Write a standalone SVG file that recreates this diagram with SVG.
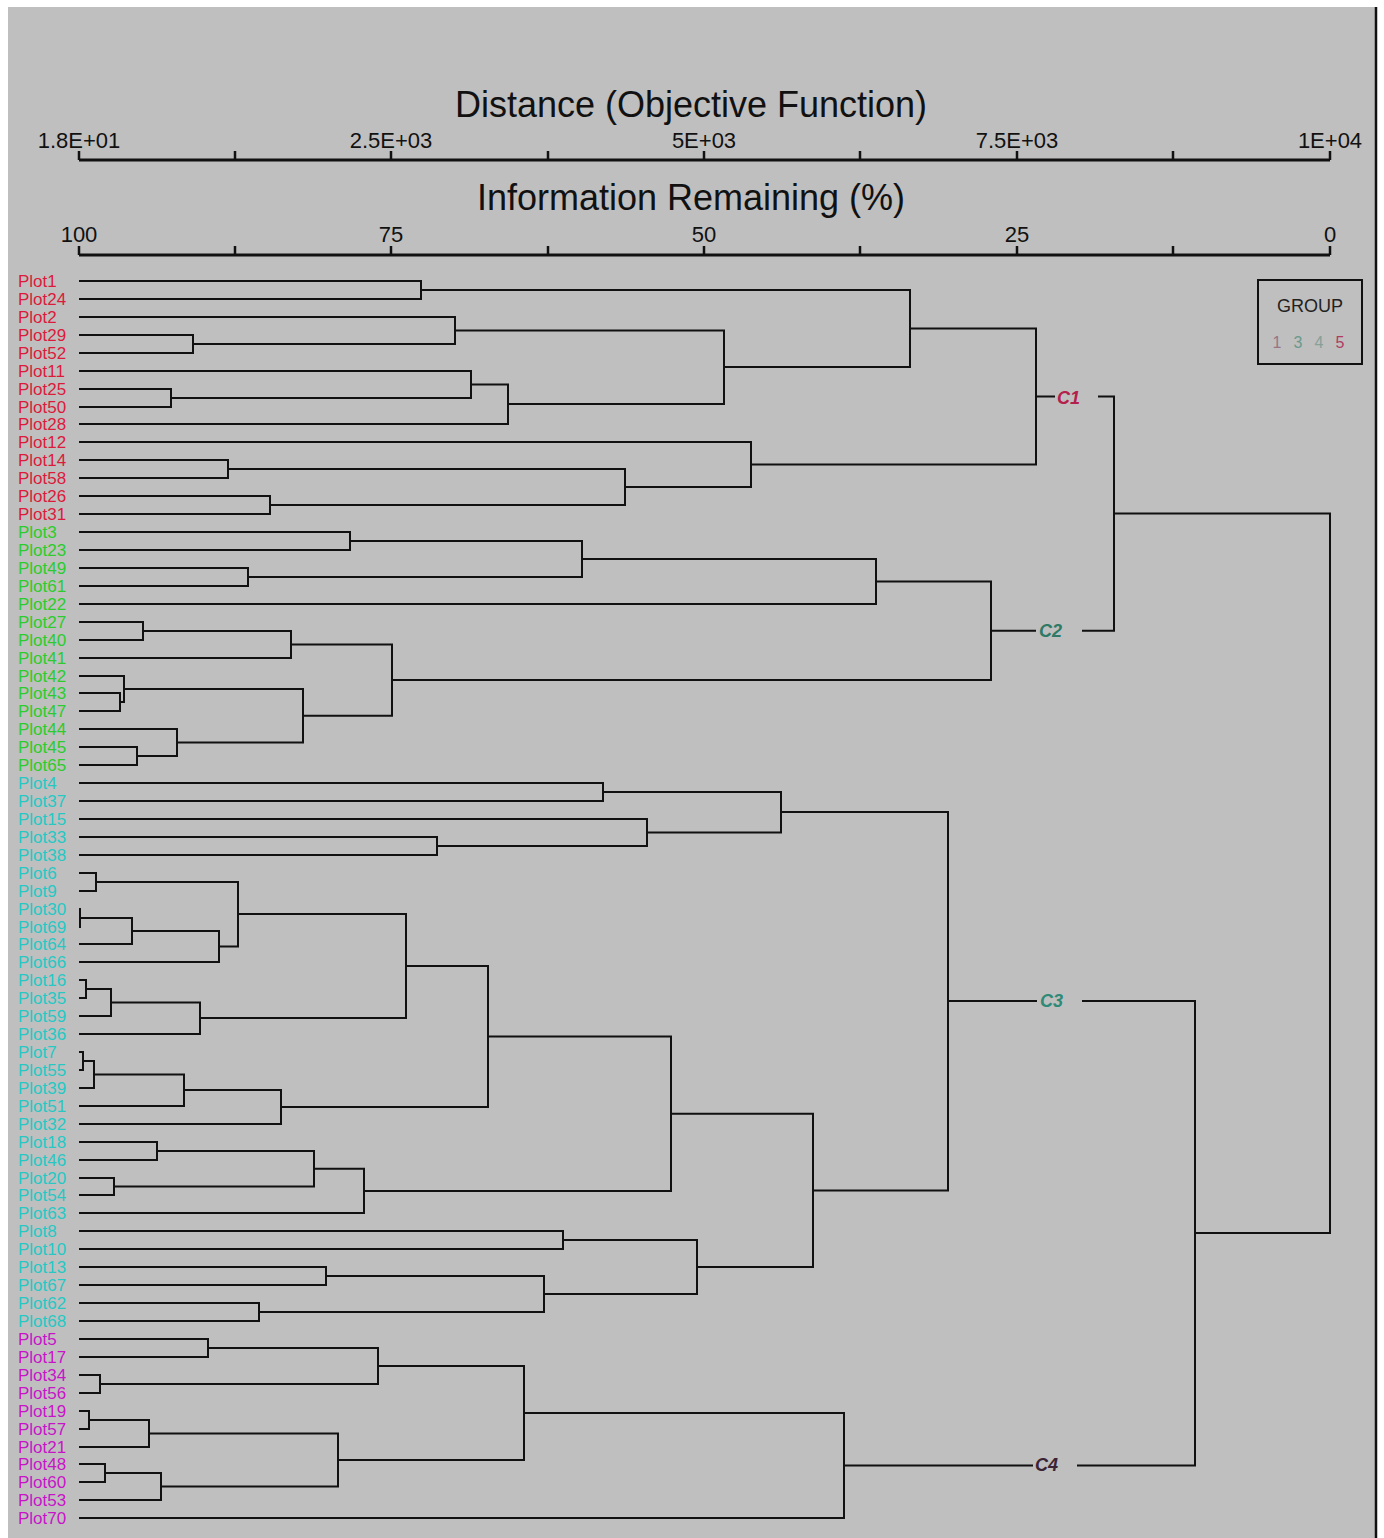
<svg xmlns="http://www.w3.org/2000/svg" width="1384" height="1538" viewBox="0 0 1384 1538">
<style>
.ax{stroke:#111;stroke-width:3;fill:none}
.tk{stroke:#111;stroke-width:2.5}
.ttl{font-family:"Liberation Sans",Arial,sans-serif;font-size:36px;fill:#111;text-anchor:middle}
.tl{font-family:"Liberation Sans",Arial,sans-serif;font-size:22px;fill:#111;text-anchor:middle}
.lf{font-family:"Liberation Sans",Arial,sans-serif;font-size:17px}
.r{fill:#dc1a3c}.g{fill:#2ccc2c}.c{fill:#26c8c4}.m{fill:#c814c8}
.cn path{stroke:#111;stroke-width:2;fill:none}
.cl{font-family:"Liberation Sans",Arial,sans-serif;font-size:18px;font-weight:bold;font-style:italic}
</style>
<rect width="1384" height="1538" fill="#ffffff"/>
<rect x="8" y="7" width="1368" height="1531" fill="#bfbfbf"/>
<line x1="1376" y1="7" x2="1376" y2="1538" stroke="#111" stroke-width="2.5"/>
<g id="axis-distance">
<text class="ttl" x="691" y="117">Distance (Objective Function)</text>
<path class="ax" d="M79 160 H1330"/>
<path class="tk" d="M79 151V160M235 151V160M391 151V160M548 151V160M704 151V160M860 151V160M1017 151V160M1173 151V160M1330 151V160"/>
<text class="tl" x="79" y="148">1.8E+01</text>
<text class="tl" x="391" y="148">2.5E+03</text>
<text class="tl" x="704" y="148">5E+03</text>
<text class="tl" x="1017" y="148">7.5E+03</text>
<text class="tl" x="1330" y="148">1E+04</text>
</g>
<g id="axis-info">
<text class="ttl" x="691" y="210">Information Remaining (%)</text>
<path class="ax" d="M79 255 H1330"/>
<path class="tk" d="M79 246V255M235 246V255M391 246V255M548 246V255M704 246V255M860 246V255M1017 246V255M1173 246V255M1330 246V255"/>
<text class="tl" x="79" y="242">100</text>
<text class="tl" x="391" y="242">75</text>
<text class="tl" x="704" y="242">50</text>
<text class="tl" x="1017" y="242">25</text>
<text class="tl" x="1330" y="242">0</text>
</g>
<g id="legend">
<rect x="1258" y="280" width="104" height="84" fill="none" stroke="#111" stroke-width="2"/>
<text x="1310" y="312" font-family="Liberation Sans,Arial,sans-serif" font-size="18" fill="#222" text-anchor="middle">GROUP</text>
<g font-family="Liberation Sans,Arial,sans-serif" font-size="16" text-anchor="middle">
<text x="1277" y="348" fill="#9a7484">1</text>
<text x="1298" y="348" fill="#6a9a8c">3</text>
<text x="1319" y="348" fill="#88a098">4</text>
<text x="1340" y="348" fill="#b03a62">5</text>
</g>
</g>
<g id="leaves" class="lf">
<g id="n-Plot1"><text class="r" x="18" y="287">Plot1</text></g>
<g id="n-Plot24"><text class="r" x="18" y="305">Plot24</text></g>
<g id="n-Plot2"><text class="r" x="18" y="323">Plot2</text></g>
<g id="n-Plot29"><text class="r" x="18" y="341">Plot29</text></g>
<g id="n-Plot52"><text class="r" x="18" y="359">Plot52</text></g>
<g id="n-Plot11"><text class="r" x="18" y="377">Plot11</text></g>
<g id="n-Plot25"><text class="r" x="18" y="395">Plot25</text></g>
<g id="n-Plot50"><text class="r" x="18" y="413">Plot50</text></g>
<g id="n-Plot28"><text class="r" x="18" y="430">Plot28</text></g>
<g id="n-Plot12"><text class="r" x="18" y="448">Plot12</text></g>
<g id="n-Plot14"><text class="r" x="18" y="466">Plot14</text></g>
<g id="n-Plot58"><text class="r" x="18" y="484">Plot58</text></g>
<g id="n-Plot26"><text class="r" x="18" y="502">Plot26</text></g>
<g id="n-Plot31"><text class="r" x="18" y="520">Plot31</text></g>
<g id="n-Plot3"><text class="g" x="18" y="538">Plot3</text></g>
<g id="n-Plot23"><text class="g" x="18" y="556">Plot23</text></g>
<g id="n-Plot49"><text class="g" x="18" y="574">Plot49</text></g>
<g id="n-Plot61"><text class="g" x="18" y="592">Plot61</text></g>
<g id="n-Plot22"><text class="g" x="18" y="610">Plot22</text></g>
<g id="n-Plot27"><text class="g" x="18" y="628">Plot27</text></g>
<g id="n-Plot40"><text class="g" x="18" y="646">Plot40</text></g>
<g id="n-Plot41"><text class="g" x="18" y="664">Plot41</text></g>
<g id="n-Plot42"><text class="g" x="18" y="682">Plot42</text></g>
<g id="n-Plot43"><text class="g" x="18" y="699">Plot43</text></g>
<g id="n-Plot47"><text class="g" x="18" y="717">Plot47</text></g>
<g id="n-Plot44"><text class="g" x="18" y="735">Plot44</text></g>
<g id="n-Plot45"><text class="g" x="18" y="753">Plot45</text></g>
<g id="n-Plot65"><text class="g" x="18" y="771">Plot65</text></g>
<g id="n-Plot4"><text class="c" x="18" y="789">Plot4</text></g>
<g id="n-Plot37"><text class="c" x="18" y="807">Plot37</text></g>
<g id="n-Plot15"><text class="c" x="18" y="825">Plot15</text></g>
<g id="n-Plot33"><text class="c" x="18" y="843">Plot33</text></g>
<g id="n-Plot38"><text class="c" x="18" y="861">Plot38</text></g>
<g id="n-Plot6"><text class="c" x="18" y="879">Plot6</text></g>
<g id="n-Plot9"><text class="c" x="18" y="897">Plot9</text></g>
<g id="n-Plot30"><text class="c" x="18" y="915">Plot30</text></g>
<g id="n-Plot69"><text class="c" x="18" y="933">Plot69</text></g>
<g id="n-Plot64"><text class="c" x="18" y="950">Plot64</text></g>
<g id="n-Plot66"><text class="c" x="18" y="968">Plot66</text></g>
<g id="n-Plot16"><text class="c" x="18" y="986">Plot16</text></g>
<g id="n-Plot35"><text class="c" x="18" y="1004">Plot35</text></g>
<g id="n-Plot59"><text class="c" x="18" y="1022">Plot59</text></g>
<g id="n-Plot36"><text class="c" x="18" y="1040">Plot36</text></g>
<g id="n-Plot7"><text class="c" x="18" y="1058">Plot7</text></g>
<g id="n-Plot55"><text class="c" x="18" y="1076">Plot55</text></g>
<g id="n-Plot39"><text class="c" x="18" y="1094">Plot39</text></g>
<g id="n-Plot51"><text class="c" x="18" y="1112">Plot51</text></g>
<g id="n-Plot32"><text class="c" x="18" y="1130">Plot32</text></g>
<g id="n-Plot18"><text class="c" x="18" y="1148">Plot18</text></g>
<g id="n-Plot46"><text class="c" x="18" y="1166">Plot46</text></g>
<g id="n-Plot20"><text class="c" x="18" y="1184">Plot20</text></g>
<g id="n-Plot54"><text class="c" x="18" y="1201">Plot54</text></g>
<g id="n-Plot63"><text class="c" x="18" y="1219">Plot63</text></g>
<g id="n-Plot8"><text class="c" x="18" y="1237">Plot8</text></g>
<g id="n-Plot10"><text class="c" x="18" y="1255">Plot10</text></g>
<g id="n-Plot13"><text class="c" x="18" y="1273">Plot13</text></g>
<g id="n-Plot67"><text class="c" x="18" y="1291">Plot67</text></g>
<g id="n-Plot62"><text class="c" x="18" y="1309">Plot62</text></g>
<g id="n-Plot68"><text class="c" x="18" y="1327">Plot68</text></g>
<g id="n-Plot5"><text class="m" x="18" y="1345">Plot5</text></g>
<g id="n-Plot17"><text class="m" x="18" y="1363">Plot17</text></g>
<g id="n-Plot34"><text class="m" x="18" y="1381">Plot34</text></g>
<g id="n-Plot56"><text class="m" x="18" y="1399">Plot56</text></g>
<g id="n-Plot19"><text class="m" x="18" y="1417">Plot19</text></g>
<g id="n-Plot57"><text class="m" x="18" y="1435">Plot57</text></g>
<g id="n-Plot21"><text class="m" x="18" y="1453">Plot21</text></g>
<g id="n-Plot48"><text class="m" x="18" y="1470">Plot48</text></g>
<g id="n-Plot60"><text class="m" x="18" y="1488">Plot60</text></g>
<g id="n-Plot53"><text class="m" x="18" y="1506">Plot53</text></g>
<g id="n-Plot70"><text class="m" x="18" y="1524">Plot70</text></g>
</g>
<g id="cluster-labels">
<g id="n-C1"><text class="cl" x="1057" y="404" fill="#b4204c">C1</text></g>
<g id="n-C2"><text class="cl" x="1039" y="637" fill="#2e7a66">C2</text></g>
<g id="n-C3"><text class="cl" x="1040" y="1007" fill="#2e8a76">C3</text></g>
<g id="n-C4"><text class="cl" x="1035" y="1471" fill="#3a2434">C4</text></g>
</g>
<g id="connectors" class="cn">
<path d="M79 281H421V299H79"/>
<path d="M79 335H193V353H79"/>
<path d="M79 317H455V344H193"/>
<path d="M79 389H171V407H79"/>
<path d="M79 371H471V398H171"/>
<path d="M471 384.5H508V424H79"/>
<path d="M455 330.5H724V404H508"/>
<path d="M421 290H910V367H724"/>
<path d="M79 460H228V478H79"/>
<path d="M79 496H270V514H79"/>
<path d="M228 469H625V505H270"/>
<path d="M79 442H751V487H625"/>
<path d="M910 328.5H1036V464.5H751"/>
<path d="M79 532H350V550H79"/>
<path d="M79 568H248V586H79"/>
<path d="M350 541H582V577H248"/>
<path d="M582 559H876V604H79"/>
<path d="M79 622H143V640H79"/>
<path d="M143 631H291V658H79"/>
<path d="M79 693H120V711H79"/>
<path d="M79 676H124V702H120"/>
<path d="M79 747H137V765H79"/>
<path d="M79 729H177V756H137"/>
<path d="M124 689H303V742.5H177"/>
<path d="M291 644.5H392V715.75H303"/>
<path d="M876 581.5H991V680H392"/>
<path d="M1036 396.5H1055M1098 396.5H1114V630.75H1082M1036 630.75H991"/>
<path d="M1114 513.6H1330V1233H1195"/>
<path d="M79 783H603V801H79"/>
<path d="M79 837H437V855H79"/>
<path d="M79 819H647V846H437"/>
<path d="M603 792H781V832.5H647"/>
<path d="M79 873H96V891H79"/>
<path d="M79 909H80V927H79"/>
<path d="M80 918H132V944H79"/>
<path d="M132 931H219V962H79"/>
<path d="M96 882H238V946.5H219"/>
<path d="M79 980H86V998H79"/>
<path d="M86 989H111V1016H79"/>
<path d="M111 1002.5H200V1034H79"/>
<path d="M238 914H406V1018H200"/>
<path d="M79 1052H83V1070H79"/>
<path d="M83 1061H94V1088H79"/>
<path d="M94 1074.5H184V1106H79"/>
<path d="M184 1090H281V1124H79"/>
<path d="M406 966H488V1107H281"/>
<path d="M79 1142H157V1160H79"/>
<path d="M79 1178H114V1195H79"/>
<path d="M157 1151H314V1186.5H114"/>
<path d="M314 1168.75H364V1213H79"/>
<path d="M488 1036.5H671V1191H364"/>
<path d="M79 1231H563V1249H79"/>
<path d="M79 1267H326V1285H79"/>
<path d="M79 1303H259V1321H79"/>
<path d="M326 1276H544V1312H259"/>
<path d="M563 1240H697V1294H544"/>
<path d="M671 1113.75H813V1267H697"/>
<path d="M781 812H948V1190.4H813"/>
<path d="M948 1001H1037M1082 1001H1195V1465.5H1077M1033 1465.5H844"/>
<path d="M79 1339H208V1357H79"/>
<path d="M79 1375H100V1393H79"/>
<path d="M208 1348H378V1384H100"/>
<path d="M79 1411H89V1429H79"/>
<path d="M89 1420H149V1447H79"/>
<path d="M79 1464H105V1482H79"/>
<path d="M105 1473H161V1500H79"/>
<path d="M149 1433.5H338V1486.5H161"/>
<path d="M378 1366H524V1460H338"/>
<path d="M524 1413H844V1518H79"/>
</g>
</svg>
